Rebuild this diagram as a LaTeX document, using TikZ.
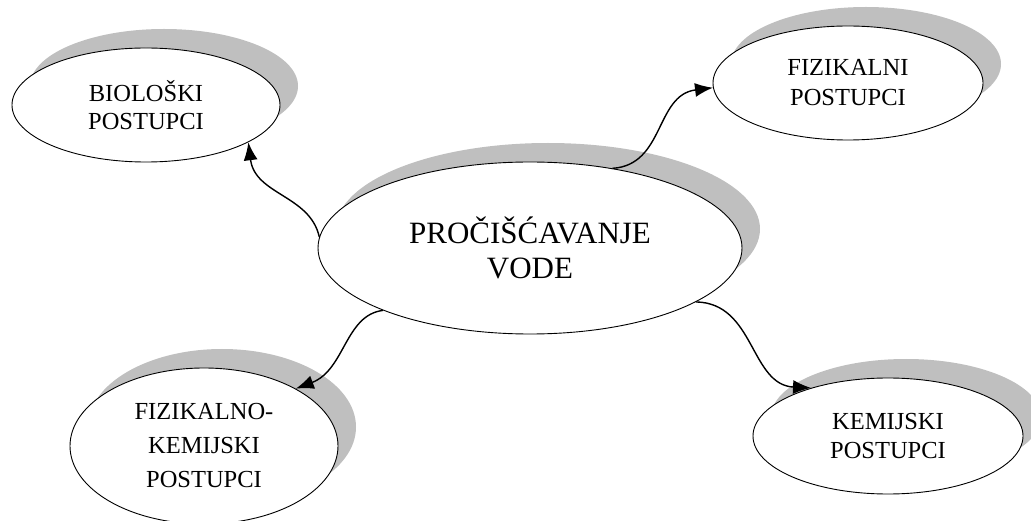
\documentclass[tikz,border=0pt]{standalone}
\usepackage{fontspec}
\setmainfont{Liberation Serif}
\usetikzlibrary{shapes.geometric,shadows,arrows.meta}
\definecolor{shadowgray}{RGB}{191,191,191}
\begin{document}
\begin{tikzpicture}[x=1pt,y=-1pt,
  bubble/.style={ellipse, draw=black, line width=0.9pt, fill=white, inner sep=0pt, align=center,
    general shadow={shadow xshift=18pt, shadow yshift=19pt, fill=shadowgray, draw=none},
    font=\fontsize{24.5}{28}\selectfont},
  link/.style={line width=1.4pt, -{Latex[length=18pt,width=14pt]}}]
\useasboundingbox (0,0) rectangle (1031,521);
\node[bubble, minimum width=424pt, minimum height=172pt, font=\fontsize{31}{35}\selectfont] (main) at (530,248) {PROČIŠĆAVANJE\\VODE};
\node[bubble, minimum width=268pt, minimum height=114pt] (bio) at (146,105) {BIOLOŠKI\\POSTUPCI};
\node[bubble, minimum width=270pt, minimum height=114pt, font=\fontsize{24.5}{30}\selectfont] (fiz) at (848,83) {FIZIKALNI\\POSTUPCI};
\node[bubble, minimum width=268pt, minimum height=156pt, font=\fontsize{24.5}{34}\selectfont] (fk) at (204,446) {FIZIKALNO-\\KEMIJSKI\\POSTUPCI};
\node[bubble, minimum width=270pt, minimum height=116pt, font=\fontsize{24.5}{29}\selectfont] (kem) at (888,436) {KEMIJSKI\\POSTUPCI};
\draw[link] (main.177) .. controls (310,195) and (255,195) .. (bio.-20);
\draw[link] (main.44) .. controls (665,165) and (655,95) .. (fiz.182);
\draw[link] (main.203) .. controls (345,315) and (345,370) .. (fk.32);
\draw[link] (main.342) .. controls (755,303) and (750,385) .. (kem.148);
\end{tikzpicture}
\end{document}
